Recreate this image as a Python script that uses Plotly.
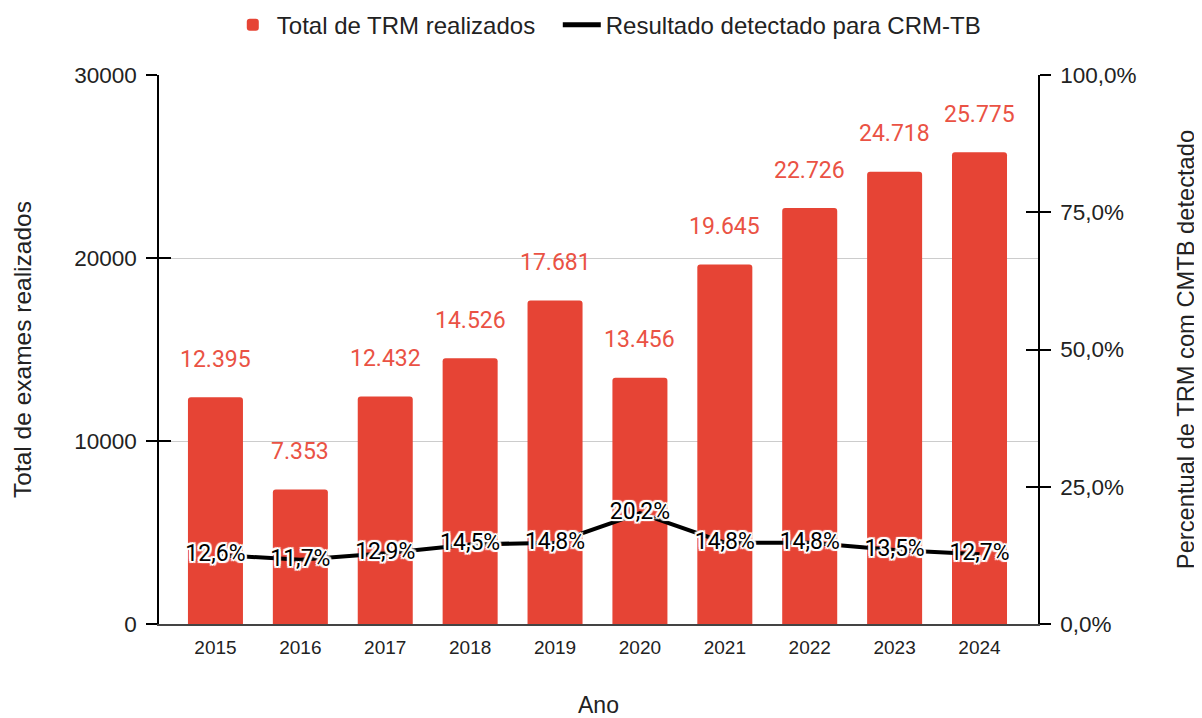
import plotly.graph_objects as go

anos = ["2015", "2016", "2017", "2018", "2019", "2020", "2021", "2022", "2023", "2024"]
total_trm = [12395, 7353, 12432, 14526, 17681, 13456, 19645, 22726, 24718, 25775]
pct_detectado = [0.126, 0.117, 0.129, 0.145, 0.148, 0.202, 0.148, 0.148, 0.135, 0.127]

left_ticks = [0, 10000, 20000, 30000]
right_ticks = [0, 0.25, 0.5, 0.75, 1.0]

RED = "#e64435"
LABEL_RED = "#ea5244"
AX_FONT = "Liberation Sans, Arial, sans-serif"
LBL_FONT = "Roboto, sans-serif"
TXT = "#222222"

fig = go.Figure()
fig.add_trace(go.Bar(
    x=anos, y=total_trm, name="Total de TRM realizados",
    marker=dict(color=RED, line=dict(width=0)),
    legendwidth=276,
    yaxis="y", xaxis="x",
))
halo = ("-1px -1px 0 #fff, 1px -1px 0 #fff, -1px 1px 0 #fff, 1px 1px 0 #fff, "
        "0 -2px 0 #fff, 0 2px 0 #fff, -2px 0 0 #fff, 2px 0 0 #fff, "
        "-2px -2px 1px #fff, 2px 2px 1px #fff, -2px 2px 1px #fff, 2px -2px 1px #fff")
fig.add_trace(go.Scatter(
    x=anos, y=pct_detectado, name="Resultado detectado para CRM-TB",
    mode="lines+text", yaxis="y2", xaxis="x",
    line=dict(color="#000000", width=4),
    text=[f"{v*100:.1f}%".replace(".", ",") for v in pct_detectado],
    textposition="middle center",
    textfont=dict(family=LBL_FONT, size=23, color="#000000", shadow=halo),
))
# empty traces so the tick-crossing overlay axes get rendered
fig.add_trace(go.Scatter(x=[], y=[], yaxis="y3", showlegend=False, hoverinfo="skip"))
fig.add_trace(go.Scatter(x=[], y=[], yaxis="y4", showlegend=False, hoverinfo="skip"))

for i, v in enumerate(total_trm):
    fig.add_annotation(
        x=i, y=v, xref="x", yref="y", yshift=38,
        text=f"{v:,}".replace(",", "."), showarrow=False,
        font=dict(family=LBL_FONT, size=23, color=LABEL_RED),
        yanchor="middle", xanchor="center",
    )

# the page has an 8px body margin, so the figure is 8px smaller and margins shifted
fig.update_layout(
    width=1194, height=710,
    margin=dict(l=151, r=164, t=67, b=94, autoexpand=False),
    paper_bgcolor="white", plot_bgcolor="white",
    separators=",.",
    bargap=0.352,
    barcornerradius=3,
    font=dict(family=AX_FONT, color=TXT),
    legend=dict(
        orientation="h", x=0.51, xanchor="center", y=1.091, yref="paper",
        yanchor="middle", font=dict(family=AX_FONT, size=24, color=TXT),
        itemsizing="constant", itemwidth=38, traceorder="normal",
    ),
    xaxis=dict(
        type="category", range=[-0.665, 9.689],
        showline=True, linecolor="#444444", linewidth=1.5,
        ticks="", ticklabelstandoff=5,
        tickfont=dict(family=AX_FONT, size=19, color=TXT),
        title=dict(text="Ano", font=dict(family=AX_FONT, size=23, color=TXT), standoff=54),
        showgrid=False, zeroline=False,
    ),
    yaxis=dict(
        range=[0, 30000], tickvals=left_ticks, tickformat="d",
        showline=True, linecolor="#000000", linewidth=1.5,
        ticks="outside", ticklen=11, tickwidth=1.5, tickcolor="#000000",
        ticklabelstandoff=5,
        tickfont=dict(family=AX_FONT, size=22.5, color=TXT),
        showgrid=True, gridcolor="#cccccc", gridwidth=1.2,
        zeroline=False,
        title=dict(text="Total de exames realizados", font=dict(family=AX_FONT, size=24.5, color=TXT), standoff=36),
    ),
    yaxis2=dict(
        range=[0, 1], tickvals=right_ticks, tickformat=".1%",
        overlaying="y", side="right", anchor="x",
        showline=True, linecolor="#000000", linewidth=1.5,
        ticks="outside", ticklen=11, tickwidth=1.5, tickcolor="#000000",
        ticklabelstandoff=5,
        tickfont=dict(family=AX_FONT, size=22.5, color=TXT),
        showgrid=False, zeroline=False,
        title=dict(text="Percentual de TRM com CMTB detectado", font=dict(family=AX_FONT, size=23.7, color=TXT), standoff=42),
    ),
    yaxis3=dict(
        range=[0, 30000], tickvals=left_ticks, overlaying="y", side="left", anchor="x",
        ticks="inside", ticklen=12, tickwidth=1.5, tickcolor="#000000",
        showticklabels=False, showgrid=False, zeroline=False, showline=False,
    ),
    yaxis4=dict(
        range=[0, 1], tickvals=right_ticks, overlaying="y", side="right", anchor="x",
        ticks="inside", ticklen=12, tickwidth=1.5, tickcolor="#000000",
        showticklabels=False, showgrid=False, zeroline=False, showline=False,
    ),
)

fig.write_html("out.html")
